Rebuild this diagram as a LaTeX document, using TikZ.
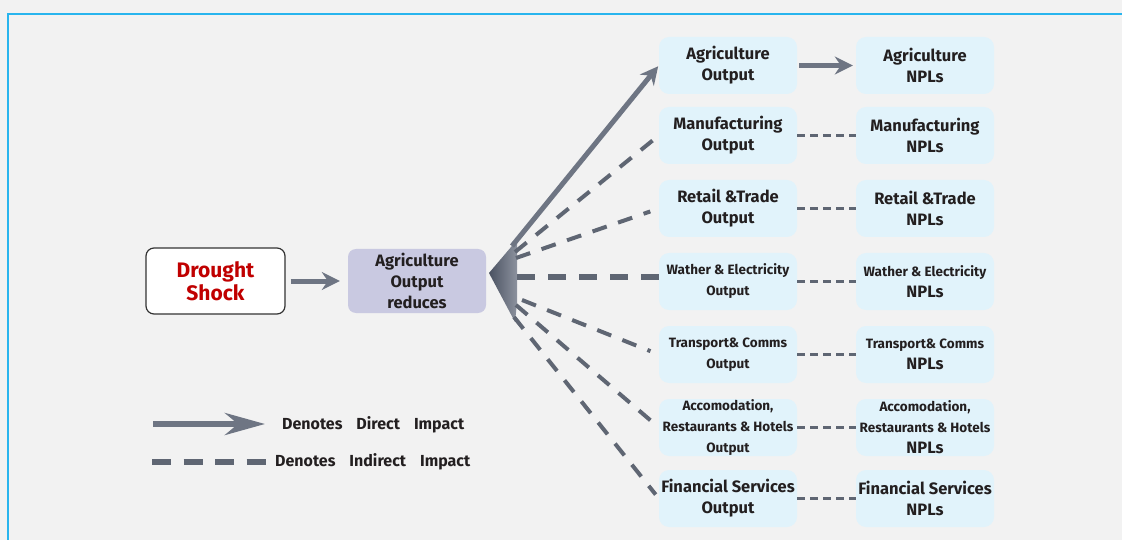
\documentclass[tikz,border=0pt]{standalone}
\usepackage{fontspec}
\setmainfont{Fira Sans}
\usetikzlibrary{arrows.meta,calc}

\definecolor{bggray}{HTML}{F2F2F2}
\definecolor{framecol}{HTML}{29B5EE}
\definecolor{boxblue}{HTML}{E1F3FB}
\definecolor{lavender}{HTML}{C9C9E1}
\definecolor{txt}{HTML}{231F20}
\definecolor{shockred}{HTML}{C00000}
\definecolor{arrowgray}{HTML}{6E7583}
\definecolor{dashgray}{HTML}{5F6673}
\definecolor{fandark}{HTML}{4A5161}
\definecolor{fanlight}{HTML}{8C929E}

\newcommand\bigtxt{\fontsize{16.5}{21}\selectfont}
\newcommand\smalltxt{\fontsize{13.5}{21}\selectfont}

\begin{document}
\begin{tikzpicture}[x=1pt,y=-1pt,font=\bfseries,text=txt]
\tikzset{
% Node styles: the shock, the first effect, and the sector boxes
shock box/.style={draw=black!80,line width=1.2pt,fill=white,rounded corners=8pt,
  minimum width=139pt,minimum height=66pt,inner sep=0pt,align=center,
  text=shockred,font=\fontsize{21}{23}\selectfont\bfseries},
reduce box/.style={fill=lavender,rounded corners=8pt,minimum width=138pt,
  minimum height=64pt,inner sep=0pt,align=center,font=\bigtxt\bfseries},
sector box/.style={fill=boxblue,rounded corners=10pt,minimum width=138pt,
  minimum height=57pt,inner sep=0pt,align=center,font=\bigtxt\bfseries},
small box/.style={sector box,font=\smalltxt\bfseries},
legend text/.style={anchor=west,inner sep=0pt,font=\fontsize{16}{20}\selectfont\bfseries},
% Connector styles: direct and indirect impact
direct/.style={draw=arrowgray,line width=5pt,-{Stealth[length=18pt,width=18pt,inset=6pt]}},
indirect/.style={draw=dashgray,line width=4pt,dash pattern=on 15pt off 12pt},
indirect main/.style={draw=dashgray,line width=6pt,dash pattern=on 18pt off 13pt},
link/.style={draw=dashgray,line width=3pt,dash pattern=on 8pt off 5pt}
}

% Background and frame
\fill[bggray] (0,0) rectangle (1122,540);
\useasboundingbox (0,0) rectangle (1122,540);
\draw[framecol,line width=1.5pt] (8,540) -- (8,14) -- (1122,14);

% First two boxes
\node(drought)[shock box] at (215.5,281) {Drought\\Shock};
\node(agri)[reduce box] at (417,281) {Agriculture\\Output\\reduces};

% Sector outputs
\node(out1)[sector box] at (728,65.5) {Agriculture\\Output};
\node(out2)[sector box] at (728,135.5) {Manufacturing\\Output};
\node(out3)[sector box] at (728,208.5) {Retail \&Trade\\Output};
\node(out4)[small box] at (728,281.5) {Wather \& Electricity\\Output};
\node(out5)[small box] at (728,354.5) {Transport\& Comms\\Output};
\node(out6)[small box] at (728,427.5) {Accomodation,\\Restaurants \& Hotels\\Output};
\node(out7)[sector box] at (728,498.5) {Financial Services\\Output};

% Sector NPLs
\node(npl1)[sector box] at (925,65.5) {Agriculture\\NPLs};
\node(npl2)[sector box] at (925,135.5) {Manufacturing\\NPLs};
\node(npl3)[sector box] at (925,208.5) {Retail \&Trade\\NPLs};
\node(npl4)[small box] at (925,281.5) {Wather \& Electricity\\{\bigtxt NPLs}};
\node(npl5)[small box] at (925,354.5) {Transport\& Comms\\{\bigtxt NPLs}};
\node(npl6)[small box] at (925,427.5) {Accomodation,\\Restaurants \& Hotels\\{\bigtxt NPLs}};
\node(npl7)[sector box] at (925,498.5) {Financial Services\\NPLs};

% Fan where the impacts split
\shade[left color=fandark,right color=fanlight] (489,273) -- (517,240) -- (517,303) -- (515,322) -- cycle;
\coordinate(fan top) at (512,246);
\coordinate(fan up2) at (515,252);
\coordinate(fan up3) at (516,258);
\coordinate(fan mid) at (517,277);
\coordinate(fan down5) at (522,300);
\coordinate(fan down6) at (516,305);
\coordinate(fan down7) at (514,317);

% Impacts
\draw[direct,shorten <=5pt,shorten >=8pt] (drought) -- (agri);
\draw[direct,shorten >=1pt] (fan top) -- (out1.west);
\draw[indirect,shorten >=1pt] (fan up2) -- (out2.west);
\draw[indirect,shorten >=9pt] (fan up3) -- (out3.west);
\draw[indirect main] (fan mid) -- (fan mid -| out4.west);
\draw[indirect,shorten >=9pt] (fan down5) -- (out5.west);
\draw[indirect,shorten >=2pt] (fan down6) -- (out6.west);
\draw[indirect,shorten >=5pt] (fan down7) -- (out7.west);

% Outputs to NPLs
\draw[direct,shorten <=2pt,shorten >=3pt] (out1) -- (npl1);
\draw[link] (out2) -- (npl2);
\draw[link] (out3) -- (npl3);
\draw[link] (out4) -- (npl4);
\draw[link] (out5) -- (npl5);
\draw[link] (out6) -- (npl6);
\draw[link] (out7) -- (npl7);

% Legend
\coordinate(dir a) at (153,424);
\coordinate(dir b) at (265,424);
\coordinate(ind a) at (152,462);
\coordinate(ind b) at (266,462);
\draw[draw=arrowgray,line width=6pt,-{Stealth[length=40pt,width=22pt,inset=13pt]}] (dir a) -- (dir b);
\draw[draw=dashgray,line width=6pt,dash pattern=on 19pt off 12.5pt] (ind a) -- (ind b);
\node(dir txt)[legend text] at (282,425) {Denotes\hspace{14pt}Direct\hspace{14pt}Impact};
\node(ind txt)[legend text] at (275,462) {Denotes\hspace{14pt}Indirect\hspace{14pt}Impact};
\end{tikzpicture}
\end{document}
